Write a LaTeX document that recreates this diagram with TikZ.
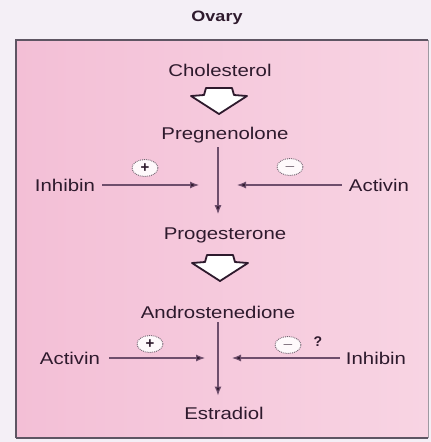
\documentclass[tikz,border=0pt]{standalone}
\usepackage{fontspec}
\setmainfont{Liberation Sans}
\usetikzlibrary{arrows.meta,positioning,shapes.geometric}

\definecolor{pagebg}{HTML}{F4EFF6}
\definecolor{pinkL}{HTML}{F3BFD6}
\definecolor{pinkR}{HTML}{F8D4E3}
\definecolor{frameline}{HTML}{5E5563}
\definecolor{ink}{HTML}{2E1A2D}
\definecolor{wire}{HTML}{6E4E6C}

\newcommand{\wide}[1]{\scalebox{1.2}[1]{#1}}

\tikzset{
  compound/.style={font=\fontsize{17}{19}\selectfont, text=ink, inner sep=1pt},
  heading/.style={font=\bfseries\fontsize{15}{17}\selectfont, text=ink, inner sep=1pt},
  flow/.style={draw=wire, line width=1.1pt, -{Latex[length=9pt,width=7pt,fill=ink]}},
  sign/.style={ellipse, draw=ink!70, densely dotted, fill=white!85!pinkR, line width=0.9pt,
    minimum width=26pt, minimum height=17pt, inner sep=0pt,
    font=\bfseries\fontsize{15}{15}\selectfont, text=ink},
  bigarrow/.pic={
    \draw[ink, fill=white, line width=1.8pt, line join=round]
      (-13,-12) -- (13,-12) -- (15,-5) -- (28,-4) -- (0,14) -- (-28,-4) -- (-15,-5) -- cycle;
  }
}

\begin{document}
\begin{tikzpicture}[x=1pt,y=-1pt]
    \fill[pagebg] (0,0) rectangle (431,442);
    \useasboundingbox (0,0) rectangle (431,442);

    % frame
    \node[heading] (ovary) at (217,18) {\wide{Ovary}};
    \shade[left color=pinkL, right color=pinkR] (16,40) rectangle (428,438);
    \draw[frameline, line width=2.2pt] (16,438) -- (16,40) -- (428,40);
    \draw[frameline!60, line width=0.9pt] (428,40) -- (428,438);
    \draw[frameline, line width=1.6pt] (16,438) -- (428,438);

    % pathway
    \node[compound] (chol) at (220,70) {\wide{Cholesterol}};
    \pic at (219,100) {bigarrow};
    \node[compound] (preg) at (225,135) {\wide{Pregnenolone}};
    \node[compound] (prog) at (225,235) {\wide{Progesterone}};
    \pic at (220,267) {bigarrow};
    \node[compound] (andro) at (218,312) {\wide{Androstenedione}};
    \node[compound] (estr) at (224,413) {\wide{Estradiol}};

    \coordinate (meet1) at (218,185);
    \coordinate (meet2) at (218,358);

    \draw[flow] ([yshift=-3pt]preg.south -| meet1) -- ([yshift=12pt]prog.north -| meet1);
    \draw[flow] ([yshift=-3pt]andro.south -| meet2) -- ([yshift=10pt]estr.north -| meet2);

    % theca: upper regulators
    \node[compound] (inhibin1) at (65,185) {\wide{Inhibin}};
    \node[compound] (activin1) at (379,185) {\wide{Activin}};
    \draw[flow] ([xshift=6pt]inhibin1.east) -- ([xshift=-19pt]meet1);
    \draw[flow] ([xshift=-6pt]activin1.west) -- ([xshift=19pt]meet1);
    \node[sign] (plus1) at (145,168) {+};
    \node[sign] (minus1) at (290,167) {$-$};

    % granulosa: lower regulators
    \node[compound] (activin2) at (70,358) {\wide{Activin}};
    \node[compound] (inhibin2) at (376,358) {\wide{Inhibin}};
    \draw[flow] ([xshift=8pt]activin2.east) -- ([xshift=-13pt]meet2);
    \draw[flow] ([xshift=-5pt]inhibin2.west) -- ([xshift=14pt]meet2);
    \node[sign] (plus2) at (150,344) {+};
    \node[sign] (minus2) at (288,345) {$-$};
    \node[compound, font=\bfseries\fontsize{14}{14}\selectfont] (query) at (318,342) {?};
\end{tikzpicture}
\end{document}
